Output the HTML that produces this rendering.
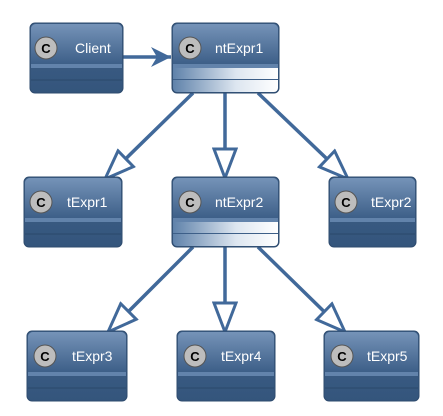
<!DOCTYPE html>
<html><head><meta charset="utf-8"><style>
html,body{margin:0;padding:0;background:#fff;}
svg{display:block;}
text{font-family:"Liberation Sans",sans-serif;}
</style></head><body>
<svg width="443" height="416" viewBox="0 0 443 416" xmlns="http://www.w3.org/2000/svg">
<defs>
<linearGradient id="hd" x1="0" y1="0" x2="0" y2="1">
<stop offset="0" stop-color="#7593b8"/><stop offset="1" stop-color="#3d5f88"/>
</linearGradient>
<linearGradient id="bd" x1="0" y1="0" x2="0" y2="1">
<stop offset="0" stop-color="#3f6189"/><stop offset="1" stop-color="#34557c"/>
</linearGradient>
<linearGradient id="wh" x1="0" y1="0" x2="1" y2="0">
<stop offset="0" stop-color="#5f82aa"/><stop offset="0.6" stop-color="#dde6f0"/><stop offset="1" stop-color="#ffffff"/>
</linearGradient>
<marker id="tri" markerUnits="userSpaceOnUse" markerWidth="34" markerHeight="26" refX="31" refY="13" orient="auto">
<path d="M2,2 L31,13 L2,24 Z" fill="#fff" stroke="#41699a" stroke-width="3" stroke-linejoin="miter"/>
</marker>
<marker id="op" markerUnits="userSpaceOnUse" markerWidth="24" markerHeight="24" refX="22" refY="12" orient="auto">
<path d="M2,2 L22,12 L2,22 L8,12 Z" fill="#41699a"/>
</marker>
</defs>

<g stroke="#41699a" stroke-width="3.5" fill="none">
<line x1="123" y1="57" x2="171" y2="57" marker-end="url(#op)"/>
<line x1="193" y1="93" x2="105" y2="179" marker-end="url(#tri)"/>
<line x1="225" y1="93" x2="225" y2="178" marker-end="url(#tri)"/>
<line x1="258" y1="93" x2="348" y2="179" marker-end="url(#tri)"/>
<line x1="193" y1="247" x2="108" y2="332" marker-end="url(#tri)"/>
<line x1="225" y1="247" x2="225" y2="332" marker-end="url(#tri)"/>
<line x1="258" y1="247" x2="345" y2="332" marker-end="url(#tri)"/>
</g>

<g>
<rect x="30" y="23" width="93" height="70" rx="5" fill="url(#bd)" stroke="#2e4b6e"/>
<path d="M31,28 a5,5 0 0 1 5,-4 h81 a5,5 0 0 1 5,4 V64 H31 Z" fill="url(#hd)"/>
<rect x="31" y="64" width="91" height="4" fill="#6283ab"/>
<line x1="31" y1="80" x2="122" y2="80" stroke="#2b486b"/>
<circle cx="46" cy="48" r="11" fill="#bdbdbd" stroke="#555"/>
<text x="46" y="53" font-size="13" font-weight="bold" text-anchor="middle" fill="#000">C</text>
<text x="75" y="53" font-size="14" fill="#fff">Client</text>
</g>
<g>
<rect x="172" y="23" width="107" height="70" rx="5" fill="url(#bd)" stroke="#2e4b6e"/>
<path d="M173,28 a5,5 0 0 1 5,-4 h95 a5,5 0 0 1 5,4 V64 H173 Z" fill="url(#hd)"/>
<rect x="173" y="64" width="105" height="4" fill="#6283ab"/>
<rect x="173" y="68" width="105" height="11" fill="url(#wh)"/>
<path d="M173,80 H278 V88 a4,4 0 0 1 -4,4 H177 a4,4 0 0 1 -4,-4 Z" fill="url(#wh)"/>
<line x1="173" y1="79.5" x2="278" y2="79.5" stroke="#3d5f88"/>
<circle cx="190" cy="48" r="11" fill="#bdbdbd" stroke="#555"/>
<text x="190" y="53" font-size="13" font-weight="bold" text-anchor="middle" fill="#000">C</text>
<text x="215" y="53" font-size="14" fill="#fff">ntExpr1</text>
</g>
<g>
<rect x="172" y="177" width="107" height="70" rx="5" fill="url(#bd)" stroke="#2e4b6e"/>
<path d="M173,182 a5,5 0 0 1 5,-4 h95 a5,5 0 0 1 5,4 V218 H173 Z" fill="url(#hd)"/>
<rect x="173" y="218" width="105" height="4" fill="#6283ab"/>
<rect x="173" y="222" width="105" height="11" fill="url(#wh)"/>
<path d="M173,234 H278 V242 a4,4 0 0 1 -4,4 H177 a4,4 0 0 1 -4,-4 Z" fill="url(#wh)"/>
<line x1="173" y1="233.5" x2="278" y2="233.5" stroke="#3d5f88"/>
<circle cx="190" cy="202" r="11" fill="#bdbdbd" stroke="#555"/>
<text x="190" y="207" font-size="13" font-weight="bold" text-anchor="middle" fill="#000">C</text>
<text x="215" y="207" font-size="14" fill="#fff">ntExpr2</text>
</g>

<g>
<rect x="24" y="177" width="98" height="70" rx="5" fill="url(#bd)" stroke="#2e4b6e"/>
<path d="M25,182 a5,5 0 0 1 5,-4 h86 a5,5 0 0 1 5,4 V218 H25 Z" fill="url(#hd)"/>
<rect x="25" y="218" width="96" height="4" fill="#6283ab"/>
<line x1="25" y1="234" x2="121" y2="234" stroke="#2b486b"/>
<circle cx="41" cy="202" r="11" fill="#bdbdbd" stroke="#555"/>
<text x="41" y="207" font-size="13" font-weight="bold" text-anchor="middle" fill="#000">C</text>
<text x="67" y="207" font-size="14" fill="#fff">tExpr1</text>
</g>
<g>
<rect x="329" y="177" width="87" height="70" rx="5" fill="url(#bd)" stroke="#2e4b6e"/>
<path d="M330,182 a5,5 0 0 1 5,-4 h75 a5,5 0 0 1 5,4 V218 H330 Z" fill="url(#hd)"/>
<rect x="330" y="218" width="85" height="4" fill="#6283ab"/>
<line x1="330" y1="234" x2="415" y2="234" stroke="#2b486b"/>
<circle cx="346" cy="202" r="11" fill="#bdbdbd" stroke="#555"/>
<text x="346" y="207" font-size="13" font-weight="bold" text-anchor="middle" fill="#000">C</text>
<text x="371" y="207" font-size="14" fill="#fff">tExpr2</text>
</g>
<g>
<rect x="27" y="331" width="100" height="70" rx="5" fill="url(#bd)" stroke="#2e4b6e"/>
<path d="M28,336 a5,5 0 0 1 5,-4 h88 a5,5 0 0 1 5,4 V372 H28 Z" fill="url(#hd)"/>
<rect x="28" y="372" width="98" height="4" fill="#6283ab"/>
<line x1="28" y1="388" x2="126" y2="388" stroke="#2b486b"/>
<circle cx="45" cy="356" r="11" fill="#bdbdbd" stroke="#555"/>
<text x="45" y="361" font-size="13" font-weight="bold" text-anchor="middle" fill="#000">C</text>
<text x="72" y="361" font-size="14" fill="#fff">tExpr3</text>
</g>
<g>
<rect x="177" y="331" width="98" height="70" rx="5" fill="url(#bd)" stroke="#2e4b6e"/>
<path d="M178,336 a5,5 0 0 1 5,-4 h86 a5,5 0 0 1 5,4 V372 H178 Z" fill="url(#hd)"/>
<rect x="178" y="372" width="96" height="4" fill="#6283ab"/>
<line x1="178" y1="388" x2="274" y2="388" stroke="#2b486b"/>
<circle cx="195" cy="356" r="11" fill="#bdbdbd" stroke="#555"/>
<text x="195" y="361" font-size="13" font-weight="bold" text-anchor="middle" fill="#000">C</text>
<text x="221" y="361" font-size="14" fill="#fff">tExpr4</text>
</g>
<g>
<rect x="324" y="331" width="95" height="70" rx="5" fill="url(#bd)" stroke="#2e4b6e"/>
<path d="M325,336 a5,5 0 0 1 5,-4 h83 a5,5 0 0 1 5,4 V372 H325 Z" fill="url(#hd)"/>
<rect x="325" y="372" width="93" height="4" fill="#6283ab"/>
<line x1="325" y1="388" x2="418" y2="388" stroke="#2b486b"/>
<circle cx="342" cy="356" r="11" fill="#bdbdbd" stroke="#555"/>
<text x="342" y="361" font-size="13" font-weight="bold" text-anchor="middle" fill="#000">C</text>
<text x="367" y="361" font-size="14" fill="#fff">tExpr5</text>
</g>
</svg>
</body></html>
